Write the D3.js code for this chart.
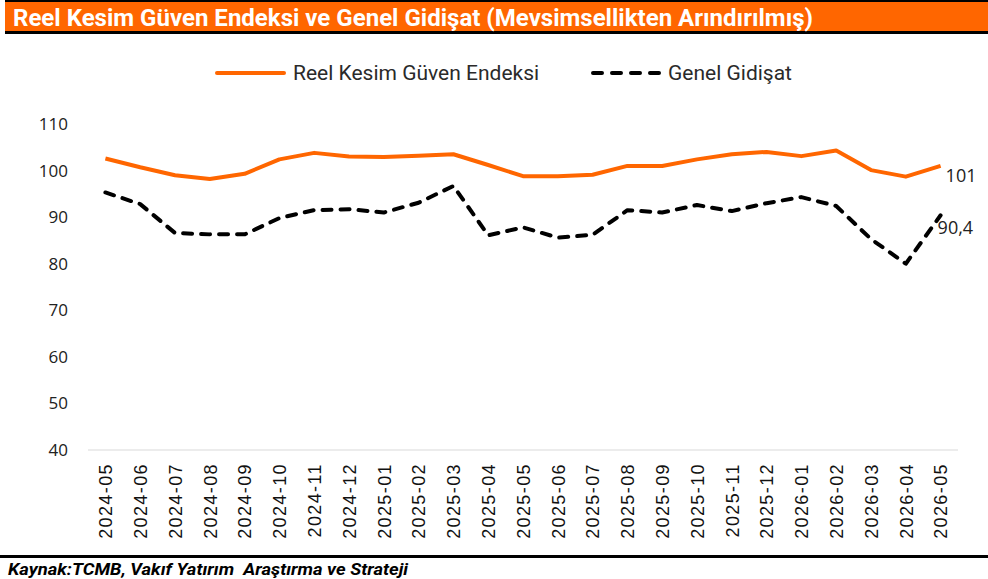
<!DOCTYPE html>
<html>
<head>
<meta charset="utf-8">
<script src="https://cdn.jsdelivr.net/npm/d3@7"></script>
<style>
  body { margin: 0; background: #fff; }
  svg { display: block; }
</style>
</head>
<body>
<div id="chart"><svg></svg></div>
<script>
const months = ['2024-05','2024-06','2024-07','2024-08','2024-09','2024-10','2024-11','2024-12',
  '2025-01','2025-02','2025-03','2025-04','2025-05','2025-06','2025-07','2025-08','2025-09',
  '2025-10','2025-11','2025-12','2026-01','2026-02','2026-03','2026-04','2026-05']
const reelKesim = [102.6, 100.7, 99.0, 98.2, 99.3, 102.4, 103.8, 103.0, 102.9, 103.2, 103.5, 101.2,
  98.8, 98.8, 99.1, 101.0, 101.0, 102.4, 103.5, 104.0, 103.1, 104.3, 100.1, 98.7, 101.0]
const genelGidisat = [95.3, 92.8, 86.6, 86.3, 86.3, 89.8, 91.5, 91.7, 91.0, 93.1, 96.7, 86.1,
  87.8, 85.6, 86.2, 91.5, 91.0, 92.6, 91.3, 93.0, 94.3, 92.4, 85.3, 80.0, 90.4]
const yTicks = [40, 50, 60, 70, 80, 90, 100, 110]
const seriesNames = ['Reel Kesim Güven Endeksi', 'Genel Gidişat']
const endLabels = ['101', '90,4']

const W = 988, H = 579
const orange = '#ff6600'
const svg = d3.select('#chart svg').attr('width', W).attr('height', H)

// baslik bandi
svg.append('rect').attr('x', 5).attr('y', 0).attr('width', W - 5).attr('height', 2).attr('fill', '#000')
svg.append('rect').attr('x', 5).attr('y', 2).attr('width', W - 5).attr('height', 29).attr('fill', orange)
svg.append('rect').attr('x', 5).attr('y', 31).attr('width', W - 5).attr('height', 3).attr('fill', '#000')
svg.append('text')
  .attr('x', 13).attr('y', 26)
  .attr('fill', '#fff')
  .attr('font-family', 'Roboto')
  .attr('font-weight', 700)
  .attr('font-size', '23px')
  .attr('textLength', 800)
  .attr('lengthAdjust', 'spacingAndGlyphs')
  .text('Reel Kesim Güven Endeksi ve Genel Gidişat (Mevsimsellikten Arındırılmış)')

// olcekler
const x = d3.scalePoint().domain(months).range([88, 958]).padding(0.5)
const y = d3.scaleLinear().domain([40, 110]).range([450, 124])

// y ekseni
const yAxis = svg.append('g')
  .attr('transform', 'translate(88,0)')
  .call(d3.axisLeft(y).tickValues(yTicks).tickSize(0).tickPadding(20))
yAxis.select('.domain').remove()
yAxis.selectAll('text')
  .attr('font-family', 'Open Sans')
  .attr('font-size', '17px')
  .attr('fill', '#222')

// taban cizgisi
svg.append('line')
  .attr('x1', 88).attr('x2', 958)
  .attr('y1', y(40)).attr('y2', y(40))
  .attr('stroke', '#d9d9d9').attr('stroke-width', 1)

// x ekseni
const xAxis = svg.append('g')
  .attr('transform', 'translate(0,' + y(40) + ')')
  .call(d3.axisBottom(x).tickSize(0))
xAxis.select('.domain').remove()
xAxis.selectAll('text')
  .attr('font-family', 'Liberation Sans')
  .attr('font-size', '18px')
  .attr('letter-spacing', '1.4px')
  .attr('fill', '#111')
  .attr('text-anchor', 'end')
  .attr('transform', 'rotate(-90)')
  .attr('x', -13)
  .attr('y', 0)
  .attr('dy', '0.35em')

// cizgiler
const line = d3.line()
  .x((d, i) => x(months[i]))
  .y(d => y(d))

svg.append('path')
  .datum(reelKesim)
  .attr('fill', 'none')
  .attr('stroke', orange)
  .attr('stroke-width', 4)
  .attr('stroke-linejoin', 'round')
  .attr('d', line)

svg.append('path')
  .datum(genelGidisat)
  .attr('fill', 'none')
  .attr('stroke', '#000')
  .attr('stroke-width', 4)
  .attr('stroke-linecap', 'round')
  .attr('stroke-linejoin', 'round')
  .attr('stroke-dasharray', '9,9')
  .attr('d', line)

// son deger etiketleri
const last = months.length - 1
svg.append('text')
  .attr('x', x(months[last]) + 5).attr('y', y(reelKesim[last]) + 16)
  .attr('font-family', 'Open Sans').attr('font-size', '18px').attr('fill', '#222')
  .text(endLabels[0])
svg.append('text')
  .attr('x', x(months[last]) - 3).attr('y', y(genelGidisat[last]) + 19)
  .attr('font-family', 'Open Sans').attr('font-size', '18px').attr('fill', '#222')
  .text(endLabels[1])

// lejant
const legend = svg.append('g').attr('font-family', 'Roboto').attr('font-size', '21px').attr('fill', '#2a2a2a')
legend.append('line').attr('x1', 217).attr('x2', 284).attr('y1', 73).attr('y2', 73)
  .attr('stroke', orange).attr('stroke-width', 4).attr('stroke-linecap', 'round')
legend.append('text').attr('x', 293).attr('y', 80).text(seriesNames[0])
legend.append('line').attr('x1', 593).attr('x2', 661).attr('y1', 73).attr('y2', 73)
  .attr('stroke', '#000').attr('stroke-width', 4).attr('stroke-linecap', 'round')
  .attr('stroke-dasharray', '9,10')
legend.append('text').attr('x', 668).attr('y', 80).text(seriesNames[1])

// kaynak
svg.append('rect').attr('x', 0).attr('y', 555).attr('width', W).attr('height', 3).attr('fill', '#000')
svg.append('text')
  .attr('x', 8).attr('y', 575)
  .attr('font-family', 'Roboto')
  .attr('font-style', 'italic')
  .attr('font-weight', 700)
  .attr('font-size', '17px')
  .attr('fill', '#000')
  .attr('xml:space', 'preserve')
  .style('white-space', 'pre')
  .attr('textLength', 400)
  .attr('lengthAdjust', 'spacingAndGlyphs')
  .text('Kaynak:TCMB, Vakıf Yatırım  Araştırma ve Strateji')
</script>
</body>
</html>
